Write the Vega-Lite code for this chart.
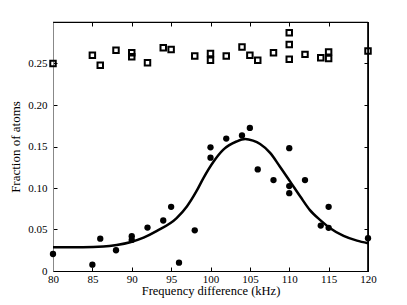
{
  "$schema": "https://vega.github.io/schema/vega-lite/v6.json",
  "width": 315,
  "height": 249,
  "autosize": {"type": "none"},
  "padding": {"left": 53, "top": 22, "right": 39, "bottom": 34},
  "background": "white",
  "view": {"stroke": "black", "strokeWidth": 1},
  "config": {
    "font": "Liberation Serif, Times New Roman, DejaVu Serif, serif",
    "axis": {
      "labelFont": "Liberation Serif, Times New Roman, DejaVu Serif, serif",
      "titleFont": "Liberation Serif, Times New Roman, DejaVu Serif, serif",
      "labelColor": "black",
      "titleColor": "black",
      "titleFontWeight": "normal",
      "grid": false,
      "tickColor": "black",
      "domainColor": "black",
      "tickSize": -4,
      "tickWidth": 1,
      "domainWidth": 1,
      "labelFlush": false,
      "labelOverlap": false,
      "zindex": 1
    }
  },
  "datasets": {
    "squares": [
      {"f": 80, "v": 0.250}, {"f": 85, "v": 0.260}, {"f": 86, "v": 0.248},
      {"f": 88, "v": 0.266}, {"f": 90, "v": 0.263}, {"f": 90, "v": 0.258},
      {"f": 92, "v": 0.251}, {"f": 94, "v": 0.269}, {"f": 95, "v": 0.267},
      {"f": 98, "v": 0.259}, {"f": 100, "v": 0.262}, {"f": 100, "v": 0.254},
      {"f": 102, "v": 0.259}, {"f": 104, "v": 0.270}, {"f": 105, "v": 0.260},
      {"f": 106, "v": 0.254}, {"f": 108, "v": 0.263}, {"f": 110, "v": 0.287},
      {"f": 110, "v": 0.273}, {"f": 110, "v": 0.255}, {"f": 112, "v": 0.261},
      {"f": 114, "v": 0.257}, {"f": 115, "v": 0.264}, {"f": 115, "v": 0.256},
      {"f": 120, "v": 0.265}
    ],
    "circles": [
      {"f": 80, "v": 0.0205}, {"f": 85, "v": 0.0076}, {"f": 86, "v": 0.039},
      {"f": 88, "v": 0.025}, {"f": 90, "v": 0.042}, {"f": 90, "v": 0.0375},
      {"f": 92, "v": 0.0523}, {"f": 94, "v": 0.0608}, {"f": 95, "v": 0.0773},
      {"f": 96, "v": 0.010}, {"f": 98, "v": 0.049}, {"f": 100, "v": 0.1365},
      {"f": 100, "v": 0.149}, {"f": 102, "v": 0.1595}, {"f": 104, "v": 0.1634},
      {"f": 105, "v": 0.1724}, {"f": 106, "v": 0.1224}, {"f": 108, "v": 0.1095},
      {"f": 110, "v": 0.148}, {"f": 110, "v": 0.1023}, {"f": 110, "v": 0.0938},
      {"f": 112, "v": 0.1095}, {"f": 114, "v": 0.0547}, {"f": 115, "v": 0.0773},
      {"f": 115, "v": 0.052}, {"f": 120, "v": 0.0395}
    ],
    "fit": [
      {"f": 80.0, "v": 0.0286}, {"f": 83.8, "v": 0.0286}, {"f": 86.4, "v": 0.0294},
      {"f": 88.1, "v": 0.0314}, {"f": 89.8, "v": 0.0347}, {"f": 91.5, "v": 0.0402},
      {"f": 93.2, "v": 0.0483}, {"f": 95.7, "v": 0.0637}, {"f": 97.0, "v": 0.0777},
      {"f": 98.2, "v": 0.0958}, {"f": 99.1, "v": 0.112}, {"f": 100.4, "v": 0.132},
      {"f": 101.6, "v": 0.146}, {"f": 103.3, "v": 0.156}, {"f": 104.4, "v": 0.159},
      {"f": 105.4, "v": 0.157}, {"f": 106.3, "v": 0.153}, {"f": 107.6, "v": 0.142},
      {"f": 108.8, "v": 0.126}, {"f": 110.1, "v": 0.108}, {"f": 111.4, "v": 0.0898},
      {"f": 112.6, "v": 0.0737}, {"f": 113.9, "v": 0.0616}, {"f": 115.2, "v": 0.0516},
      {"f": 116.9, "v": 0.0423}, {"f": 118.6, "v": 0.0366}, {"f": 120.0, "v": 0.0335}
    ],
    "frame": [{}]
  },
  "resolve": {"axis": {"x": "independent", "y": "independent"}},
  "layer": [
    {
      "data": {"name": "fit"},
      "mark": {"type": "line", "color": "black", "strokeWidth": 2.5, "interpolate": "monotone", "clip": true},
      "encoding": {
        "x": {"field": "f", "type": "quantitative", "scale": {"domain": [80, 120], "nice": false, "zero": false},
          "axis": {"orient": "bottom", "values": [80, 85, 90, 95, 100, 105, 110, 115, 120], "labelFontSize": 11, "labelPadding": 6, "title": "Frequency difference (kHz)", "titleFontSize": 12.5, "titlePadding": 0}},
        "y": {"field": "v", "type": "quantitative", "scale": {"domain": [0, 0.3], "nice": false},
          "axis": {"orient": "left", "values": [0, 0.05, 0.1, 0.15, 0.2, 0.25], "labelExpr": "datum.value == 0 ? '0' : format(datum.value, '.2f')", "labelFontSize": 11, "labelPadding": 10, "domainColor": "#888888", "title": "Fraction of atoms", "titleFontSize": 13, "titlePadding": 5}}
      }
    },
    {
      "data": {"name": "circles"},
      "mark": {"type": "point", "shape": "circle", "filled": true, "color": "black", "size": 40, "opacity": 1, "clip": false},
      "encoding": {
        "x": {"field": "f", "type": "quantitative",
          "axis": {"orient": "top", "values": [80, 85, 90, 95, 100, 105, 110, 115, 120], "labels": false, "title": null}},
        "y": {"field": "v", "type": "quantitative",
          "axis": {"orient": "right", "values": [0, 0.05, 0.1, 0.15, 0.2, 0.25], "labels": false, "title": null}}
      }
    },
    {
      "data": {"name": "squares"},
      "mark": {"type": "point", "shape": "square", "filled": false, "color": "black", "strokeWidth": 2, "size": 30, "opacity": 1, "clip": false},
      "encoding": {
        "x": {"field": "f", "type": "quantitative", "axis": null},
        "y": {"field": "v", "type": "quantitative", "axis": null}
      }
    },
    {
      "data": {"name": "frame"},
      "mark": {"type": "rule", "color": "black", "strokeWidth": 1.2},
      "encoding": {"x": {"datum": 119.97, "type": "quantitative", "axis": null}}
    },
    {
      "data": {"name": "frame"},
      "mark": {"type": "rule", "color": "black", "strokeWidth": 1.2},
      "encoding": {"y": {"datum": 0.2997, "type": "quantitative", "axis": null}}
    }
  ]
}
